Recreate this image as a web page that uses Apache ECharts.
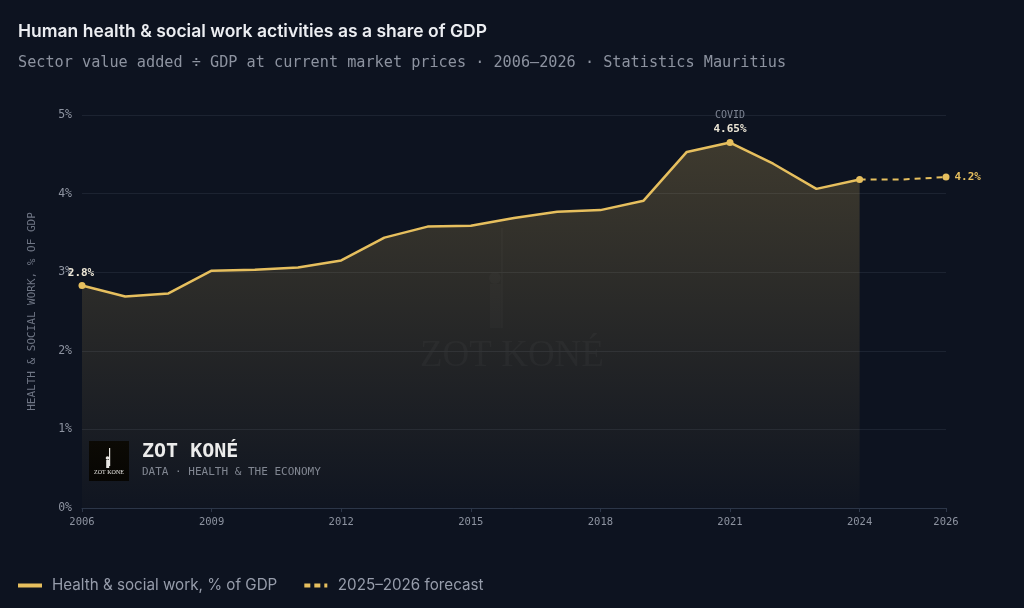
<!DOCTYPE html>
<html>
<head>
<meta charset="utf-8">
<script src="https://cdn.jsdelivr.net/npm/echarts@6/dist/echarts.min.js"></script>
<style>
  html, body { margin: 0; padding: 0; background: #0d1320; }
  #chart { width: 1024px; height: 608px; }
</style>
</head>
<body>
<div id="chart"></div>
<script>
const years = [2006, 2007, 2008, 2009, 2010, 2011, 2012, 2013, 2014, 2015, 2016, 2017, 2018, 2019, 2020, 2021, 2022, 2023, 2024]
const shares = [2.83, 2.69, 2.73, 3.02, 3.03, 3.06, 3.15, 3.44, 3.58, 3.59, 3.69, 3.77, 3.79, 3.91, 4.53, 4.65, 4.38, 4.06, 4.18]
const forecastYears = [2024, 2025, 2026]
const forecastShares = [4.18, 4.18, 4.21]
const xTickValues = [2006, 2009, 2012, 2015, 2018, 2021, 2024, 2026]
const yTicks = [0, 1, 2, 3, 4, 5]

const gold = '#e6bf5e'
const mono = '"DejaVu Sans Mono", "Liberation Mono", monospace'
const sans = 'Inter, "Noto Sans", sans-serif'

// points that carry a dot and maybe a label
const markedYears = { 2006: 'first', 2021: 'peak', 2024: 'last' }

const mainData = years.map((year, i) => {
  const kind = markedYears[year]
  const point = { value: [year, shares[i]], symbolSize: kind ? 7 : 0 }
  if (kind === 'first') {
    point.label = {
      show: true, position: 'top', offset: [-1, 2],
      formatter: () => shares[i].toFixed(1) + '%',
      color: '#ece6d6', fontFamily: mono, fontWeight: 'bold', fontSize: 11
    }
  }
  if (kind === 'peak') {
    point.label = {
      show: true, position: 'top', distance: 2,
      formatter: () => '{note|COVID}\n{val|' + shares[i].toFixed(2) + '%}',
      rich: {
        note: { color: '#7d8493', fontFamily: mono, fontSize: 10, lineHeight: 14, align: 'center' },
        val: { color: '#ece6d6', fontFamily: mono, fontWeight: 'bold', fontSize: 11, lineHeight: 15, align: 'center' }
      }
    }
  }
  return point
})

const forecastData = forecastYears.map((year, i) => {
  const isLast = i === forecastYears.length - 1
  const point = { value: [year, forecastShares[i]], symbolSize: isLast ? 7 : 0 }
  if (isLast) {
    point.label = {
      show: true, position: 'right', distance: 5,
      formatter: () => forecastShares[i].toFixed(1) + '%',
      color: gold, fontFamily: mono, fontWeight: 'bold', fontSize: 11
    }
  }
  return point
})

const chart = echarts.init(document.getElementById('chart'))

chart.setOption({
  backgroundColor: '#0d1320',
  animation: false,
  title: [
    {
      text: 'Human health & social work activities as a share of GDP',
      left: 13, top: 18,
      textStyle: { color: '#eceef2', fontFamily: sans, fontWeight: 600, fontSize: 17.5 }
    },
    {
      text: 'Sector value added ÷ GDP at current market prices · 2006–2026 · Statistics Mauritius',
      left: 13, top: 51,
      textStyle: { color: '#8d93a0', fontFamily: mono, fontWeight: 'normal', fontSize: 15.2 }
    }
  ],
  legend: {
    left: 13, bottom: 10,
    itemWidth: 24, itemHeight: 4, itemGap: 27,
    textStyle: { color: '#979dab', fontFamily: sans, fontSize: 15.2, padding: [0, 0, 0, 5] },
    data: [
      { name: 'Health & social work, % of GDP', icon: 'path://M0,0h24v4h-24z' },
      { name: '2025–2026 forecast', icon: 'path://M0,0h6v4h-6z M10,0h6v4h-6z M20,0h3v4h-3z' }
    ]
  },
  grid: { left: 82, right: 78, top: 115, bottom: 100 },
  xAxis: {
    type: 'value',
    min: 2006, max: 2026,
    axisLine: { show: true, lineStyle: { color: '#2c3648', width: 1 } },
    axisTick: { show: true, customValues: xTickValues, length: 4, lineStyle: { color: '#2c3648' } },
    axisLabel: {
      customValues: xTickValues, margin: 9,
      formatter: (value) => String(value),
      color: '#8d93a0', fontFamily: mono, fontSize: 10.5
    },
    splitLine: { show: false }
  },
  yAxis: {
    type: 'value',
    min: yTicks[0], max: yTicks[yTicks.length - 1], interval: 1,
    name: 'HEALTH & SOCIAL WORK, % OF GDP',
    nameLocation: 'middle', nameGap: 44, nameRotate: 90,
    nameTextStyle: { color: '#6f7685', fontFamily: mono, fontSize: 11 },
    axisLine: { show: false },
    axisTick: { show: false },
    axisLabel: { formatter: '{value}%', margin: 10, color: '#8d93a0', fontFamily: mono, fontSize: 11.5 },
    splitLine: { lineStyle: { color: '#1c2331', width: 1 } }
  },
  graphic: [
    // faint watermark in the middle of the plot
    {
      type: 'group', left: 420, top: 228, silent: true,
      children: [
        { type: 'rect', shape: { x: 84, y: 2, width: 2, height: 100 }, style: { fill: 'rgba(255,255,255,0.025)' } },
        { type: 'circle', shape: { cx: 78, cy: 52, r: 6 }, style: { fill: 'rgba(255,255,255,0.025)' } },
        { type: 'rect', shape: { x: 73, y: 58, width: 11, height: 44 }, style: { fill: 'rgba(255,255,255,0.02)' } },
        {
          type: 'text', style: {
            text: 'ZOT KONÉ', x: 95, y: 112, align: 'center',
            fill: 'rgba(255,255,255,0.03)', font: '37px "Liberation Serif", "DejaVu Serif", serif'
          }
        }
      ]
    },
    // brand block bottom-left
    {
      type: 'group', left: 89, top: 441,
      children: [
        { type: 'rect', shape: { x: 0, y: 0, width: 40, height: 40 }, style: { fill: '#000000' } },
        { type: 'rect', shape: { x: 20, y: 7, width: 1.2, height: 18 }, style: { fill: '#e8e8e8' } },
        { type: 'circle', shape: { cx: 18.5, cy: 17, r: 1.8 }, style: { fill: '#e8e8e8' } },
        { type: 'rect', shape: { x: 17.2, y: 19, width: 3, height: 8 }, style: { fill: '#e8e8e8' } },
        {
          type: 'text', style: {
            text: 'ZOT KONE', x: 20, y: 28, align: 'center',
            fill: '#e8e8e8', font: '6px "Liberation Serif", serif'
          }
        },
        {
          type: 'text', style: {
            text: 'ZOT KONÉ', x: 53, y: 1,
            fill: '#eceef2', font: 'bold 20px ' + mono
          }
        },
        {
          type: 'text', style: {
            text: 'DATA · HEALTH & THE ECONOMY', x: 53, y: 26,
            fill: '#7d8493', font: '11px ' + mono
          }
        }
      ]
    }
  ],
  series: [
    {
      name: 'Health & social work, % of GDP',
      type: 'line',
      data: mainData,
      symbol: 'circle',
      showSymbol: true,
      color: gold,
      lineStyle: { color: gold, width: 2.5 },
      itemStyle: { color: gold },
      areaStyle: {
        color: new echarts.graphic.LinearGradient(0, 0, 0, 1, [
          { offset: 0, color: 'rgba(230,191,94,0.32)' },
          { offset: 1, color: 'rgba(230,191,94,0.02)' }
        ])
      },
      z: 3
    },
    {
      name: '2025–2026 forecast',
      type: 'line',
      data: forecastData,
      symbol: 'circle',
      showSymbol: true,
      color: gold,
      lineStyle: { color: gold, width: 2, type: [6, 5] },
      itemStyle: { color: gold },
      z: 3
    }
  ]
})
</script>
</body>
</html>
